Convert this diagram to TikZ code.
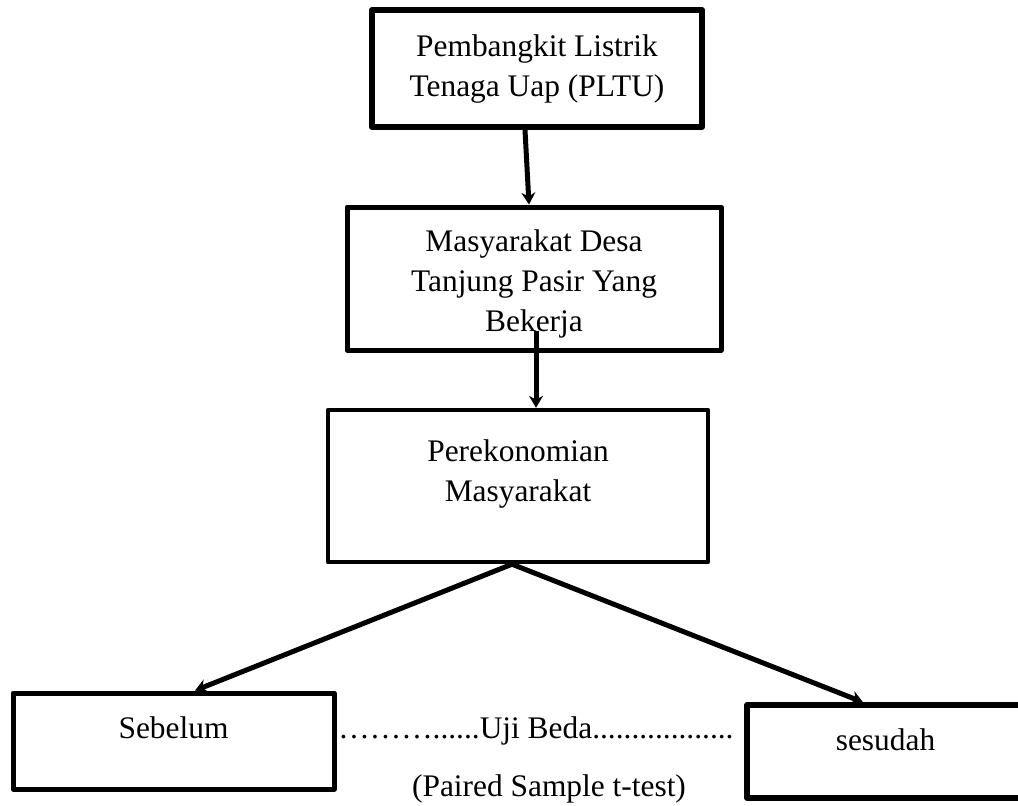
\documentclass[tikz,border=0pt]{standalone}
\usepackage{fontspec}
\setmainfont{Liberation Serif}
\usetikzlibrary{arrows.meta}
\begin{document}
\begin{tikzpicture}[x=0.5pt, y=-0.5pt,
  frame/.style={draw, line width=2.5pt, line join=round, inner sep=0pt},
  txt/.style={align=center, font=\fontsize{15.7}{20}\selectfont, inner sep=0pt},
  link/.style={line width=2.5pt, -{Stealth[length=6pt, width=7pt, inset=2pt]}}]
  \useasboundingbox (0,0) rectangle (1018,805);
  % PLTU
  \node[frame, line width=3pt, minimum width=165pt, minimum height=58.5pt] (pltu) at (537,68.5) {};
  \node[txt] (pltutxt) at (pltu) {Pembangkit Listrik\\Tenaga Uap (PLTU)};
  % Masyarakat desa
  \node[frame, minimum width=187pt, minimum height=71.5pt] (warga) at (534,278.5) {};
  \node[txt, yshift=-2.5pt] (wargatxt) at (warga) {Masyarakat Desa\\Tanjung Pasir Yang\\Bekerja};
  % Perekonomian
  \node[frame, line width=2.2pt, minimum width=190pt, minimum height=76pt] (ekonomi) at (518,486) {};
  \node[txt, yshift=6pt] (ekonomitxt) at (ekonomi) {Perekonomian\\Masyarakat};
  % Sebelum / sesudah
  \node[frame, minimum width=160.5pt, minimum height=48pt] (sebelum) at (173.5,741) {};
  \node[txt, anchor=base, yshift=1.5pt] (sebelumtxt) at (sebelum.center) {Sebelum};
  \node[frame, line width=2.8pt, minimum width=138.5pt, minimum height=46.5pt] (sesudah) at (885.5,751.5) {};
  \node[txt, anchor=base, yshift=0.75pt] (sesudahtxt) at (sesudah.center) {sesudah};
  % Uji beda
  \node[txt, anchor=base] (uji) at (536,738) {………......Uji Beda..................};
  \node[txt, anchor=base] (paired) at (549,796) {(Paired Sample t-test)};
  % Arrows
  \draw[link] ([xshift=-6pt]pltu.south) -- ([xshift=-2.5pt]warga.north);
  \draw[link] ([xshift=1pt, yshift=11pt]warga.south) -- ([xshift=9pt]ekonomi.north);
  \draw[link] ([xshift=-3pt]ekonomi.south) -- ([xshift=10.75pt]sebelum.north);
  \draw[link] ([xshift=-3pt]ekonomi.south) -- ([xshift=-11.25pt]sesudah.north);
\end{tikzpicture}
\end{document}
